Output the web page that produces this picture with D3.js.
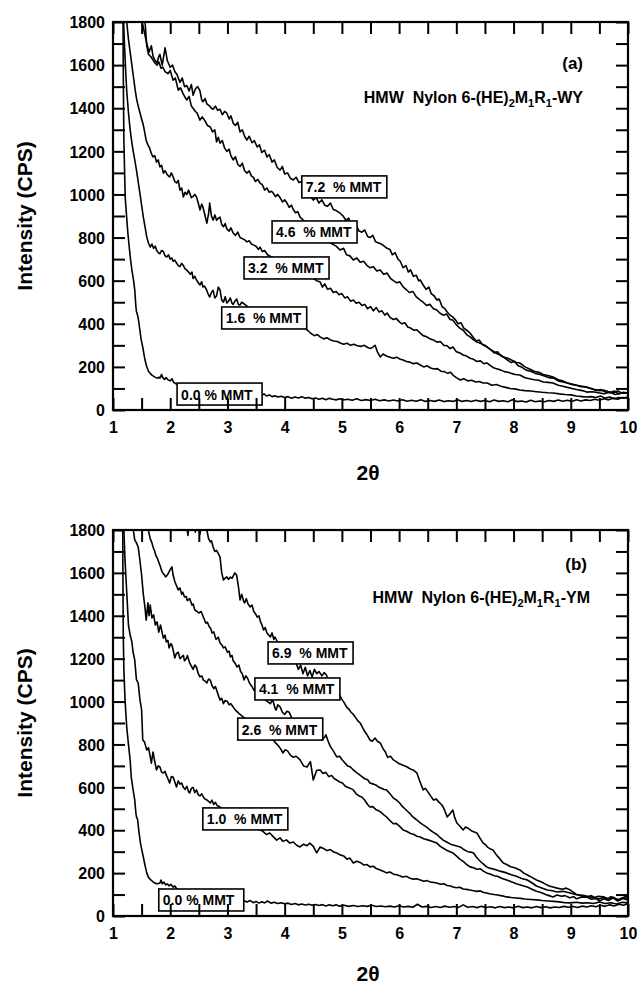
<!DOCTYPE html>
<html>
<head>
<meta charset="utf-8">
<script src="https://cdn.jsdelivr.net/npm/d3@7/dist/d3.min.js"></script>
<style>
  body { margin: 0; background: #fff; }
  svg text { font-family: "Liberation Sans", Arial, Helvetica, sans-serif; font-weight: bold; fill: #000; }
</style>
</head>
<body>
<svg id="chart" width="637" height="988"></svg>
<script>
// ---------- axis definitions ----------
const xTickValues = [1, 1.5, 2, 2.5, 3, 3.5, 4, 4.5, 5, 5.5, 6, 6.5, 7, 7.5, 8, 8.5, 9, 9.5, 10];
const xTickLabels = ["1", "2", "3", "4", "5", "6", "7", "8", "9", "10"];
const yTickValues = [0, 100, 200, 300, 400, 500, 600, 700, 800, 900, 1000, 1100, 1200, 1300, 1400, 1500, 1600, 1700, 1800];
const yTickLabels = ["0", "200", "400", "600", "800", "1000", "1200", "1400", "1600", "1800"];
const xDomain = [1, 10];
const yDomain = [0, 1800];

// ---------- panel (a): HMW Nylon 6-(HE)2M1R1-WY, [2θ, intensity CPS] ----------
const wy72 = [[1.48,1950],[1.51,1800],[1.55,1750],[1.59,1700],[1.63,1660],[1.67,1690],[1.70,1640],[1.74,1620],[1.77,1610],[1.80,1640],[1.82,1650],[1.86,1600],[1.91,1680],[1.95,1620],[2.0,1590],[2.04,1600],[2.08,1570],[2.12,1555],[2.17,1520],[2.21,1540],[2.25,1500],[2.29,1505],[2.33,1480],[2.37,1510],[2.40,1460],[2.44,1490],[2.48,1500],[2.52,1480],[2.55,1440],[2.57,1430],[2.61,1445],[2.64,1420],[2.69,1410],[2.72,1400],[2.75,1395],[2.79,1410],[2.83,1390],[2.87,1395],[2.91,1370],[2.95,1385],[2.99,1377],[3.03,1350],[3.06,1365],[3.10,1331],[3.14,1320],[3.18,1335],[3.22,1290],[3.26,1300],[3.30,1270],[3.34,1252],[3.38,1270],[3.43,1240],[3.47,1250],[3.52,1220],[3.56,1230],[3.60,1195],[3.65,1205],[3.69,1174],[3.73,1185],[3.78,1150],[3.82,1160],[3.87,1125],[3.92,1113],[3.96,1130],[4.0,1095],[4.05,1100],[4.1,1075],[4.15,1067],[4.2,1080],[4.25,1055],[4.3,1060],[4.35,1030],[4.4,1010],[4.45,990],[4.5,974],[4.55,985],[4.6,960],[4.65,975],[4.7,950],[4.75,945],[4.8,960],[4.85,930],[4.9,925],[4.97,913],[5.02,900],[5.07,880],[5.12,890],[5.16,860],[5.2,849],[5.25,855],[5.3,830],[5.35,825],[5.4,835],[5.45,805],[5.49,800],[5.54,810],[5.59,780],[5.64,775],[5.69,770],[5.74,760],[5.79,750],[5.84,745],[5.88,720],[5.93,730],[5.98,700],[6.02,690],[6.07,660],[6.12,670],[6.16,640],[6.2,650],[6.25,620],[6.3,625],[6.34,600],[6.37,603],[6.42,580],[6.47,560],[6.52,570],[6.56,540],[6.61,530],[6.66,510],[6.7,515],[6.75,480],[6.8,470],[6.84,455],[6.89,440],[6.94,431],[6.98,420],[7.03,400],[7.08,405],[7.13,380],[7.18,370],[7.24,357],[7.3,335],[7.35,320],[7.4,325],[7.45,305],[7.5,300],[7.54,292],[7.6,280],[7.66,265],[7.72,270],[7.78,250],[7.82,246],[7.9,230],[7.96,220],[8.02,225],[8.08,205],[8.14,199],[8.22,185],[8.3,180],[8.38,170],[8.46,165],[8.54,158],[8.62,150],[8.7,148],[8.78,135],[8.86,130],[8.94,125],[9.02,118],[9.1,115],[9.18,108],[9.26,107],[9.34,100],[9.42,95],[9.5,90],[9.58,92],[9.66,85],[9.74,80],[9.82,88],[9.9,78],[10.0,79]];

const wy46 = [[1.54,1950],[1.56,1800],[1.59,1690],[1.62,1650],[1.66,1640],[1.70,1623],[1.73,1610],[1.77,1600],[1.80,1615],[1.84,1585],[1.87,1591],[1.91,1570],[1.96,1560],[2.0,1575],[2.05,1530],[2.09,1540],[2.14,1484],[2.18,1495],[2.22,1470],[2.26,1450],[2.29,1438],[2.33,1455],[2.37,1410],[2.40,1400],[2.44,1385],[2.47,1377],[2.52,1345],[2.56,1360],[2.61,1340],[2.65,1320],[2.70,1313],[2.74,1290],[2.78,1300],[2.81,1243],[2.84,1265],[2.87,1238],[2.91,1250],[2.95,1215],[2.99,1200],[3.03,1210],[3.06,1180],[3.10,1160],[3.14,1175],[3.18,1140],[3.22,1130],[3.26,1145],[3.30,1110],[3.34,1099],[3.38,1110],[3.42,1085],[3.45,1080],[3.49,1060],[3.53,1070],[3.57,1053],[3.61,1045],[3.65,1020],[3.69,1030],[3.73,1010],[3.77,1015],[3.80,1006],[3.84,990],[3.88,1000],[3.92,985],[3.96,965],[4.0,975],[4.04,960],[4.08,940],[4.12,950],[4.15,930],[4.19,915],[4.23,920],[4.27,895],[4.32,882],[4.4,860],[4.5,840],[4.6,810],[4.7,790],[4.8,775],[4.9,760],[4.97,742],[5.03,750],[5.08,720],[5.14,715],[5.2,696],[5.26,705],[5.32,685],[5.38,690],[5.44,670],[5.49,660],[5.55,665],[5.61,645],[5.67,650],[5.73,630],[5.79,635],[5.85,610],[5.9,600],[5.96,590],[6.01,595],[6.07,571],[6.12,560],[6.18,545],[6.24,550],[6.3,525],[6.37,510],[6.42,500],[6.48,485],[6.54,490],[6.6,470],[6.66,464],[6.71,450],[6.77,440],[6.83,445],[6.89,420],[6.94,417],[7.0,395],[7.06,380],[7.12,370],[7.18,350],[7.24,339],[7.3,325],[7.36,315],[7.42,310],[7.48,300],[7.54,292],[7.6,280],[7.66,270],[7.72,260],[7.78,255],[7.82,246],[7.9,240],[7.98,230],[8.05,220],[8.11,218],[8.2,200],[8.28,190],[8.36,180],[8.44,175],[8.52,165],[8.6,160],[8.69,153],[8.78,140],[8.86,135],[8.94,125],[9.02,120],[9.1,115],[9.2,110],[9.28,107],[9.36,100],[9.44,90],[9.52,95],[9.6,85],[9.68,80],[9.76,88],[9.84,75],[9.92,82],[10,79]];

const wy32 = [[1.21,1950],[1.24,1800],[1.27,1720],[1.30,1660],[1.33,1600],[1.36,1540],[1.39,1480],[1.41,1447],[1.44,1410],[1.47,1380],[1.50,1350],[1.53,1322],[1.56,1280],[1.58,1250],[1.61,1230],[1.64,1215],[1.67,1190],[1.70,1174],[1.73,1180],[1.76,1150],[1.79,1160],[1.82,1128],[1.85,1135],[1.88,1099],[1.91,1110],[1.94,1095],[1.97,1085],[1.99,1081],[2.02,1100],[2.05,1082],[2.08,1060],[2.11,1053],[2.14,1065],[2.17,1020],[2.20,1030],[2.23,988],[2.26,1010],[2.29,1000],[2.32,1020],[2.34,1006],[2.37,985],[2.40,990],[2.43,1000],[2.46,988],[2.49,960],[2.52,928],[2.55,955],[2.57,943],[2.61,900],[2.64,867],[2.67,910],[2.69,960],[2.72,900],[2.75,881],[2.78,905],[2.81,880],[2.84,890],[2.87,895],[2.90,860],[2.93,850],[2.96,865],[2.99,840],[3.03,830],[3.06,845],[3.10,821],[3.14,810],[3.18,825],[3.22,800],[3.26,795],[3.30,790],[3.34,780],[3.38,785],[3.42,770],[3.46,765],[3.50,760],[3.54,745],[3.57,756],[3.61,735],[3.65,740],[3.7,720],[3.8,705],[3.9,695],[4.0,680],[4.1,665],[4.2,655],[4.3,640],[4.4,620],[4.5,610],[4.56,600],[4.62,594],[4.66,570],[4.7,585],[4.75,560],[4.8,565],[4.85,545],[4.9,550],[4.95,535],[5.0,540],[5.05,520],[5.1,525],[5.15,505],[5.2,510],[5.25,495],[5.3,500],[5.35,485],[5.4,490],[5.45,470],[5.5,480],[5.55,460],[5.6,475],[5.65,455],[5.7,460],[5.75,440],[5.79,450],[5.84,430],[5.9,420],[5.95,425],[6.0,410],[6.05,400],[6.1,405],[6.15,385],[6.2,380],[6.26,370],[6.31,372],[6.37,357],[6.42,345],[6.48,340],[6.54,330],[6.6,325],[6.66,315],[6.72,318],[6.78,300],[6.84,298],[6.89,285],[6.94,292],[7.0,270],[7.06,265],[7.12,255],[7.18,250],[7.24,240],[7.3,235],[7.36,225],[7.42,228],[7.48,215],[7.54,218],[7.6,205],[7.66,195],[7.72,190],[7.78,185],[7.84,178],[7.9,175],[7.96,170],[8.03,165],[8.11,162],[8.2,150],[8.28,145],[8.36,140],[8.44,138],[8.52,130],[8.6,128],[8.69,125],[8.78,115],[8.86,110],[8.94,105],[9.02,100],[9.1,95],[9.2,90],[9.28,83],[9.38,85],[9.48,80],[9.58,75],[9.68,82],[9.78,72],[9.88,78],[10,79]];

const wy16 = [[1.17,1950],[1.185,1800],[1.20,1700],[1.22,1580],[1.24,1480],[1.27,1380],[1.30,1300],[1.33,1240],[1.35,1206],[1.38,1160],[1.41,1113],[1.44,1060],[1.47,1006],[1.50,950],[1.53,895],[1.56,850],[1.59,802],[1.62,775],[1.65,756],[1.68,770],[1.71,750],[1.74,760],[1.76,742],[1.79,730],[1.82,725],[1.85,740],[1.88,735],[1.91,715],[1.94,710],[1.97,720],[2.0,700],[2.03,705],[2.05,690],[2.08,695],[2.11,682],[2.14,670],[2.17,665],[2.20,680],[2.23,670],[2.26,655],[2.29,649],[2.32,640],[2.35,630],[2.38,640],[2.40,610],[2.43,620],[2.46,603],[2.49,590],[2.52,580],[2.55,595],[2.57,571],[2.60,575],[2.63,560],[2.66,540],[2.69,524],[2.72,545],[2.75,555],[2.78,520],[2.81,530],[2.84,570],[2.87,557],[2.90,510],[2.93,500],[2.96,525],[2.99,496],[3.02,505],[3.05,520],[3.08,495],[3.10,490],[3.13,505],[3.16,515],[3.19,490],[3.22,487],[3.25,500],[3.28,495],[3.4,470],[3.6,450],[3.8,430],[4.0,400],[4.1,385],[4.17,395],[4.25,380],[4.32,385],[4.4,370],[4.46,355],[4.52,345],[4.57,350],[4.62,339],[4.68,330],[4.74,335],[4.8,325],[4.86,320],[4.92,318],[4.97,311],[5.03,305],[5.09,310],[5.15,300],[5.21,305],[5.27,298],[5.33,295],[5.39,300],[5.45,290],[5.5,285],[5.54,292],[5.58,300],[5.62,270],[5.67,246],[5.72,260],[5.78,250],[5.84,245],[5.9,240],[5.96,245],[6.02,235],[6.07,232],[6.13,225],[6.19,222],[6.25,215],[6.31,218],[6.37,209],[6.43,200],[6.49,205],[6.55,195],[6.61,190],[6.67,192],[6.73,180],[6.79,178],[6.85,170],[6.9,175],[6.94,162],[7.0,150],[7.07,139],[7.13,145],[7.2,135],[7.27,138],[7.34,130],[7.4,132],[7.47,125],[7.54,125],[7.62,115],[7.7,118],[7.78,110],[7.86,105],[7.94,100],[8.02,98],[8.11,93],[8.2,90],[8.3,88],[8.4,85],[8.5,82],[8.6,80],[8.69,79],[8.8,75],[8.9,72],[9.0,70],[9.1,65],[9.2,62],[9.27,60],[9.36,62],[9.44,58],[9.52,65],[9.6,55],[9.68,60],[9.76,52],[9.84,58],[9.92,55],[10,60]];

const wy00 = [[1.165,2000],[1.175,1800],[1.18,1550],[1.19,1250],[1.205,1080],[1.215,980],[1.24,890],[1.26,820],[1.29,740],[1.31,690],[1.33,650],[1.36,600],[1.38,557],[1.40,480],[1.41,456],[1.43,440],[1.45,410],[1.47,370],[1.49,330],[1.52,292],[1.55,245],[1.57,220],[1.59,201],[1.62,180],[1.65,170],[1.68,162],[1.72,155],[1.75,150],[1.78,148],[1.80,152],[1.82,148],[1.85,165],[1.87,150],[1.9,142],[1.93,150],[1.96,140],[2.0,135],[2.03,145],[2.06,128],[2.1,122],[2.2,110],[2.4,95],[2.6,88],[2.8,80],[3.0,75],[3.3,72],[3.6,68],[3.64,75],[3.68,65],[3.73,70],[3.78,62],[3.83,66],[3.88,60],[3.94,64],[4.0,58],[4.06,62],[4.12,55],[4.18,60],[4.24,56],[4.3,62],[4.36,55],[4.42,58],[4.48,52],[4.54,56],[4.6,50],[4.66,55],[4.72,48],[4.78,54],[4.84,50],[4.9,47],[4.96,52],[5.02,46],[5.1,50],[5.18,45],[5.26,52],[5.34,44],[5.42,48],[5.5,44],[5.58,50],[5.66,43],[5.74,47],[5.82,42],[5.9,46],[5.98,42],[6.06,48],[6.14,41],[6.22,45],[6.3,41],[6.38,48],[6.46,40],[6.54,44],[6.62,40],[6.7,46],[6.78,39],[6.86,43],[6.94,40],[7.02,48],[7.1,40],[7.18,44],[7.26,39],[7.34,45],[7.42,40],[7.5,44],[7.58,38],[7.66,46],[7.74,40],[7.82,43],[7.9,38],[7.98,48],[8.06,39],[8.14,42],[8.22,37],[8.3,45],[8.38,38],[8.46,42],[8.54,38],[8.62,44],[8.7,40],[8.78,46],[8.86,41],[8.94,45],[9.02,40],[9.1,48],[9.18,42],[9.26,47],[9.34,44],[9.42,50],[9.5,45],[9.58,52],[9.66,47],[9.74,55],[9.82,50],[9.9,58],[10,55]];

const wyLabels = ["7.2  % MMT", "4.6  % MMT", "3.2  % MMT", "1.6  % MMT", "0.0 % MMT"];
const wyLabelX = [4.30, 3.78, 3.29, 2.90, 2.12];
const wyLabelY = [1086, 877, 710, 478, 125];

// ---------- panel (b): HMW Nylon 6-(HE)2M1R1-YM, [2θ, intensity CPS] ----------
const ym69 = [[2.18,1950],[2.25,1880],[2.29,1810],[2.31,1775],[2.33,1840],[2.40,1860],[2.44,1790],[2.46,1820],[2.50,1805],[2.52,1780],[2.54,1830],[2.60,1840],[2.64,1800],[2.67,1760],[2.70,1745],[2.72,1750],[2.75,1721],[2.78,1700],[2.81,1705],[2.84,1690],[2.87,1675],[2.9,1600],[2.93,1567],[2.96,1575],[2.99,1581],[3.02,1570],[3.05,1580],[3.08,1575],[3.1,1585],[3.13,1600],[3.16,1590],[3.19,1540],[3.22,1474],[3.25,1500],[3.28,1470],[3.3,1460],[3.33,1480],[3.36,1455],[3.4,1441],[3.43,1450],[3.46,1420],[3.49,1410],[3.52,1394],[3.55,1400],[3.58,1370],[3.6,1360],[3.63,1334],[3.66,1345],[3.69,1320],[3.72,1310],[3.75,1301],[3.78,1320],[3.81,1290],[3.83,1301],[3.87,1280],[3.95,1255],[4.05,1230],[4.15,1190],[4.2,1180],[4.24,1150],[4.28,1170],[4.32,1130],[4.36,1160],[4.4,1120],[4.44,1145],[4.48,1115],[4.52,1150],[4.56,1130],[4.6,1140],[4.65,1120],[4.69,1135],[4.73,1124],[4.77,1095],[4.81,1085],[4.85,1070],[4.88,1060],[4.91,1040],[4.95,1035],[5.0,1010],[5.04,995],[5.08,975],[5.12,965],[5.16,950],[5.2,940],[5.24,925],[5.28,910],[5.32,900],[5.36,880],[5.4,860],[5.44,845],[5.49,821],[5.53,815],[5.58,830],[5.62,815],[5.67,807],[5.72,780],[5.76,765],[5.8,740],[5.85,745],[5.9,728],[5.95,720],[6.0,710],[6.05,705],[6.1,700],[6.14,695],[6.2,685],[6.25,680],[6.31,667],[6.36,630],[6.42,588],[6.46,595],[6.5,580],[6.55,560],[6.6,541],[6.65,545],[6.7,530],[6.74,520],[6.77,508],[6.8,490],[6.84,462],[6.9,480],[6.94,494],[6.97,460],[7.01,434],[7.06,420],[7.12,401],[7.16,415],[7.2,410],[7.28,395],[7.36,387],[7.42,360],[7.47,340],[7.52,330],[7.55,320],[7.6,312],[7.64,308],[7.7,285],[7.75,270],[7.78,260],[7.82,247],[7.88,240],[7.95,230],[8.02,225],[8.11,215],[8.18,200],[8.25,190],[8.32,180],[8.4,168],[8.48,160],[8.55,150],[8.62,140],[8.69,135],[8.76,130],[8.85,125],[8.92,130],[8.99,121],[9.05,110],[9.1,100],[9.18,95],[9.28,89],[9.36,95],[9.44,82],[9.5,80],[9.58,88],[9.64,78],[9.7,90],[9.78,80],[9.86,75],[9.93,88],[10,95]];

const ym41 = [[1.6,1900],[1.617,1800],[1.65,1760],[1.68,1740],[1.70,1721],[1.73,1700],[1.75,1680],[1.78,1665],[1.80,1650],[1.83,1628],[1.85,1610],[1.87,1600],[1.90,1590],[1.92,1581],[1.95,1590],[1.97,1600],[2.0,1615],[2.03,1628],[2.05,1590],[2.08,1560],[2.11,1540],[2.14,1520],[2.17,1530],[2.2,1500],[2.22,1510],[2.25,1488],[2.28,1490],[2.3,1470],[2.34,1480],[2.38,1450],[2.4,1455],[2.43,1427],[2.47,1420],[2.5,1413],[2.54,1420],[2.57,1400],[2.6,1380],[2.62,1366],[2.65,1370],[2.68,1350],[2.71,1340],[2.73,1320],[2.76,1325],[2.8,1290],[2.84,1300],[2.87,1273],[2.9,1265],[2.93,1250],[2.96,1255],[3.0,1230],[3.03,1235],[3.05,1208],[3.08,1215],[3.1,1190],[3.13,1180],[3.17,1161],[3.2,1170],[3.23,1140],[3.26,1130],[3.29,1101],[3.32,1120],[3.35,1110],[3.38,1090],[3.40,1080],[3.43,1070],[3.46,1054],[3.55,1040],[3.65,1010],[3.7,1000],[3.75,990],[3.78,1005],[3.8,1000],[3.83,970],[3.85,960],[3.88,985],[3.92,975],[3.96,950],[4.0,940],[4.04,955],[4.08,950],[4.12,925],[4.15,910],[4.2,918],[4.25,900],[4.4,870],[4.55,840],[4.65,820],[4.7,835],[4.72,845],[4.76,815],[4.8,790],[4.85,770],[4.91,742],[4.96,745],[5.0,730],[5.05,715],[5.1,700],[5.15,695],[5.2,681],[5.25,670],[5.3,660],[5.35,650],[5.4,640],[5.45,635],[5.49,620],[5.55,615],[5.6,610],[5.65,600],[5.7,595],[5.74,590],[5.78,588],[5.84,570],[5.9,550],[5.96,540],[6.01,527],[6.06,510],[6.1,500],[6.16,485],[6.2,475],[6.24,462],[6.3,450],[6.37,434],[6.42,425],[6.45,420],[6.5,410],[6.54,401],[6.6,390],[6.66,380],[6.72,365],[6.77,354],[6.83,345],[6.9,335],[6.96,330],[7.02,325],[7.07,322],[7.13,310],[7.2,300],[7.25,298],[7.3,294],[7.35,275],[7.4,260],[7.46,245],[7.53,229],[7.6,222],[7.66,218],[7.7,215],[7.78,208],[7.88,201],[7.96,192],[8.05,185],[8.14,175],[8.24,168],[8.32,155],[8.4,140],[8.48,132],[8.59,121],[8.68,118],[8.76,112],[8.86,115],[8.99,107],[9.08,100],[9.16,98],[9.24,95],[9.32,90],[9.4,85],[9.48,92],[9.57,89],[9.66,80],[9.74,88],[9.82,75],[9.9,85],[10,84]];

const ym26 = [[1.34,1900],[1.355,1800],[1.38,1754],[1.41,1740],[1.44,1721],[1.47,1660],[1.50,1590],[1.53,1500],[1.56,1436],[1.58,1380],[1.61,1460],[1.63,1400],[1.65,1450],[1.68,1390],[1.71,1404],[1.74,1357],[1.77,1371],[1.80,1324],[1.83,1357],[1.86,1320],[1.88,1296],[1.91,1310],[1.93,1278],[1.96,1285],[1.98,1250],[2.01,1270],[2.03,1264],[2.06,1230],[2.08,1203],[2.11,1225],[2.14,1230],[2.17,1200],[2.20,1208],[2.23,1215],[2.25,1190],[2.28,1200],[2.30,1215],[2.34,1180],[2.37,1165],[2.40,1150],[2.43,1170],[2.46,1160],[2.49,1130],[2.52,1115],[2.55,1120],[2.58,1100],[2.61,1095],[2.64,1087],[2.67,1105],[2.70,1100],[2.73,1075],[2.76,1060],[2.79,1070],[2.81,1054],[2.84,1030],[2.87,1007],[2.90,1015],[2.93,990],[2.96,1005],[3.0,1000],[3.03,985],[3.06,990],[3.1,975],[3.14,960],[3.2,945],[3.4,900],[3.6,855],[3.7,840],[3.75,830],[3.8,821],[3.85,805],[3.9,790],[3.94,775],[3.97,760],[4.01,775],[4.05,770],[4.1,750],[4.15,740],[4.2,745],[4.27,728],[4.33,700],[4.39,695],[4.45,720],[4.5,634],[4.56,680],[4.62,681],[4.67,665],[4.72,670],[4.77,650],[4.82,655],[4.87,640],[4.91,634],[4.96,625],[5.01,620],[5.06,605],[5.1,600],[5.15,595],[5.2,588],[5.25,570],[5.3,560],[5.35,555],[5.4,540],[5.45,520],[5.49,508],[5.54,510],[5.6,495],[5.65,490],[5.7,480],[5.74,470],[5.78,462],[5.84,445],[5.9,430],[5.95,432],[6.0,420],[6.04,410],[6.07,401],[6.13,395],[6.2,385],[6.26,380],[6.31,372],[6.37,368],[6.43,360],[6.5,355],[6.56,350],[6.61,345],[6.66,340],[6.72,325],[6.78,315],[6.84,305],[6.89,300],[6.94,294],[7.0,280],[7.06,265],[7.12,255],[7.18,240],[7.24,229],[7.3,225],[7.36,218],[7.42,220],[7.48,208],[7.53,201],[7.6,195],[7.66,188],[7.72,185],[7.8,175],[7.88,168],[7.96,160],[8.05,150],[8.12,145],[8.18,140],[8.24,135],[8.32,125],[8.4,115],[8.48,110],[8.56,100],[8.62,95],[8.69,89],[8.76,98],[8.84,92],[8.9,95],[8.98,85],[9.05,90],[9.1,80],[9.18,88],[9.28,89],[9.36,78],[9.44,82],[9.5,70],[9.58,80],[9.66,72],[9.74,85],[9.82,70],[9.9,82],[10,75]];

const ym10 = [[1.18,2000],[1.19,1800],[1.21,1660],[1.24,1511],[1.27,1357],[1.30,1310],[1.33,1278],[1.35,1231],[1.38,1194],[1.41,1101],[1.44,1087],[1.47,1010],[1.50,961],[1.52,821],[1.55,812],[1.59,774],[1.62,785],[1.65,745],[1.67,713],[1.70,765],[1.73,720],[1.76,681],[1.79,700],[1.82,695],[1.85,670],[1.88,667],[1.91,675],[1.93,658],[1.96,640],[1.99,620],[2.02,650],[2.05,648],[2.08,625],[2.11,602],[2.14,630],[2.17,615],[2.20,620],[2.23,600],[2.26,590],[2.29,605],[2.32,580],[2.34,574],[2.37,595],[2.40,600],[2.43,575],[2.46,588],[2.49,565],[2.52,560],[2.55,570],[2.58,555],[2.61,545],[2.64,541],[2.67,535],[2.70,527],[2.73,540],[2.76,520],[2.79,530],[2.82,515],[2.87,508],[2.95,495],[3.1,470],[3.3,440],[3.5,410],[3.62,395],[3.68,380],[3.74,387],[3.80,370],[3.86,354],[3.92,364],[3.97,348],[4.03,355],[4.09,340],[4.15,345],[4.21,330],[4.27,322],[4.33,335],[4.39,328],[4.44,340],[4.5,325],[4.56,294],[4.62,322],[4.68,315],[4.74,305],[4.8,310],[4.86,298],[4.91,294],[4.97,285],[5.03,280],[5.09,265],[5.14,270],[5.2,247],[5.26,255],[5.32,250],[5.38,238],[5.44,240],[5.49,229],[5.55,232],[5.61,220],[5.67,215],[5.73,208],[5.78,201],[5.84,205],[5.9,195],[5.96,192],[6.02,186],[6.07,182],[6.13,185],[6.19,176],[6.25,172],[6.31,174],[6.37,168],[6.43,162],[6.49,165],[6.55,158],[6.61,156],[6.66,154],[6.72,148],[6.78,150],[6.84,142],[6.9,140],[6.94,135],[7.0,132],[7.06,134],[7.12,126],[7.18,124],[7.24,121],[7.3,118],[7.36,115],[7.42,117],[7.48,110],[7.53,107],[7.6,103],[7.66,100],[7.72,98],[7.8,94],[7.88,89],[7.96,86],[8.04,84],[8.12,82],[8.2,79],[8.3,77],[8.4,75],[8.5,72],[8.6,70],[8.7,68],[8.8,66],[8.9,62],[8.99,61],[9.1,64],[9.2,60],[9.3,62],[9.4,58],[9.5,65],[9.6,58],[9.7,62],[9.8,56],[9.9,64],[10,61]];

const ym00 = [[1.16,2000],[1.17,1800],[1.175,1500],[1.18,1300],[1.19,1150],[1.21,1010],[1.24,880],[1.27,800],[1.30,725],[1.32,645],[1.35,590],[1.38,541],[1.40,480],[1.41,462],[1.43,450],[1.45,400],[1.48,340],[1.51,300],[1.53,275],[1.56,235],[1.59,201],[1.62,180],[1.66,168],[1.70,159],[1.74,152],[1.78,150],[1.82,154],[1.84,168],[1.86,150],[1.89,158],[1.92,145],[1.95,150],[1.98,140],[2.01,148],[2.05,135],[2.08,140],[2.12,125],[2.3,110],[2.6,95],[3.0,80],[3.3,70],[3.34,65],[3.4,72],[3.45,62],[3.5,68],[3.55,60],[3.6,66],[3.65,61],[3.7,70],[3.76,60],[3.82,64],[3.88,58],[3.94,62],[4.0,57],[4.06,60],[4.12,54],[4.18,58],[4.24,52],[4.3,56],[4.36,51],[4.42,55],[4.48,50],[4.54,54],[4.6,49],[4.66,53],[4.72,47],[4.78,52],[4.84,48],[4.9,52],[4.96,46],[5.04,50],[5.12,45],[5.2,49],[5.28,44],[5.36,48],[5.44,45],[5.52,50],[5.6,44],[5.68,47],[5.76,43],[5.84,46],[5.92,42],[6.0,48],[6.08,42],[6.16,45],[6.24,41],[6.32,55],[6.4,42],[6.48,45],[6.56,40],[6.64,44],[6.72,40],[6.8,46],[6.88,41],[6.96,44],[7.04,40],[7.12,52],[7.2,41],[7.28,44],[7.36,39],[7.44,45],[7.52,40],[7.6,43],[7.68,38],[7.76,44],[7.84,39],[7.92,42],[8.0,38],[8.08,45],[8.16,39],[8.24,42],[8.32,38],[8.4,44],[8.48,39],[8.56,43],[8.64,38],[8.72,42],[8.8,40],[8.88,45],[8.96,41],[9.04,44],[9.12,40],[9.2,46],[9.28,42],[9.36,48],[9.44,43],[9.52,50],[9.6,45],[9.68,52],[9.76,47],[9.84,55],[9.92,50],[10,58]];

const ymLabels = ["6.9  % MMT", "4.1  % MMT", "2.6  % MMT", "1.0  % MMT", "0.0 % MMT"];
const ymLabelX = [3.71, 3.48, 3.18, 2.57, 1.80];
const ymLabelY = [1278, 1110, 923, 504, 126];

// ---------- drawing ----------
const svg = d3.select("#chart");
svg.append("rect").attr("width", 637).attr("height", 988).attr("fill", "#fff");

const panels = [
  {
    id: "a", top: 22, bottom: 410,
    series: [wy00, wy16, wy32, wy46, wy72],
    labels: wyLabels, labelX: wyLabelX, labelY: wyLabelY,
    letter: "(a)", letterPos: [583, 69],
    title: ["HMW  Nylon 6-(HE)", "2", "M", "1", "R", "1", "-WY"], titlePos: [583, 103],
    xTitleY: 480
  },
  {
    id: "b", top: 530, bottom: 916,
    series: [ym00, ym10, ym26, ym41, ym69],
    labels: ymLabels, labelX: ymLabelX, labelY: ymLabelY,
    letter: "(b)", letterPos: [587, 570],
    title: ["HMW  Nylon 6-(HE)", "2", "M", "1", "R", "1", "-YM"], titlePos: [590, 603],
    xTitleY: 981
  }
];

const left = 113, right = 628;

panels.forEach(p => {
  const x = d3.scaleLinear().domain(xDomain).range([left, right]);
  const y = d3.scaleLinear().domain(yDomain).range([p.bottom, p.top]);
  const g = svg.append("g");

  g.append("clipPath").attr("id", "clip-" + p.id)
    .append("rect").attr("x", left).attr("y", p.top)
    .attr("width", right - left).attr("height", p.bottom - p.top);

  // intensity traces
  const line = d3.line().x(d => x(d[0])).y(d => y(d[1]));
  g.append("g").attr("clip-path", `url(#clip-${p.id})`)
    .selectAll("path").data(p.series).join("path")
    .attr("d", line)
    .attr("fill", "none").attr("stroke", "#000")
    .attr("stroke-width", 1.6).attr("stroke-linejoin", "round");

  // boxed concentration labels
  const lab = g.append("g").selectAll("g").data(p.labels).join("g")
    .attr("transform", (d, i) => `translate(${x(p.labelX[i])},${y(p.labelY[i])})`);
  lab.append("rect").attr("width", 85).attr("height", 22)
    .attr("fill", "#fff").attr("stroke", "#000").attr("stroke-width", 1.6);
  lab.append("text").attr("x", 4).attr("y", 16.5)
    .attr("xml:space", "preserve").style("white-space", "pre")
    .attr("font-size", 14).text(d => d);

  // axes with inward ticks
  const isInt = v => Number.isInteger(v);
  const yFmt = v => (v % 200 === 0) ? yTickLabels[v / 200] : "";
  const axB = g.append("g").attr("transform", `translate(0,${p.bottom})`)
    .call(d3.axisBottom(x).tickValues(xTickValues).tickSize(-12).tickPadding(8)
      .tickFormat(v => isInt(v) ? xTickLabels[v - 1] : ""));
  const axT = g.append("g").attr("transform", `translate(0,${p.top})`)
    .call(d3.axisTop(x).tickValues(xTickValues).tickSize(-12).tickFormat(""));
  const axL = g.append("g").attr("transform", `translate(${left},0)`)
    .call(d3.axisLeft(y).tickValues(yTickValues).tickSize(-12).tickPadding(8).tickFormat(yFmt));
  const axR = g.append("g").attr("transform", `translate(${right},0)`)
    .call(d3.axisRight(y).tickValues(yTickValues).tickSize(-12).tickFormat(""));
  [axB, axT, axL, axR].forEach(a => {
    a.select(".domain").remove();
    a.selectAll(".tick line").attr("stroke", "#000").attr("stroke-width", 2);
    a.selectAll("text").attr("font-size", 16).attr("font-family", null);
  });
  axB.selectAll("text").attr("dy", "0.95em");
  axL.selectAll("text").attr("dy", "0.36em");

  // plot frame
  g.append("rect").attr("x", left).attr("y", p.top)
    .attr("width", right - left).attr("height", p.bottom - p.top)
    .attr("fill", "none").attr("stroke", "#000").attr("stroke-width", 2.2);

  // panel letter and sample name
  g.append("text").attr("x", p.letterPos[0]).attr("y", p.letterPos[1])
    .attr("text-anchor", "end").attr("font-size", 17).text(p.letter);
  const t = g.append("text").attr("x", p.titlePos[0]).attr("y", p.titlePos[1])
    .attr("text-anchor", "end").attr("font-size", 16)
    .attr("xml:space", "preserve").style("white-space", "pre");
  p.title.forEach((s, i) => {
    const sub = i % 2 === 1;
    t.append("tspan").text(s)
      .attr("font-size", sub ? 11 : 16)
      .attr("dy", sub ? 4 : (i === 0 ? 0 : -4));
  });

  // axis titles
  g.append("text").attr("transform", `translate(32,${(p.top + p.bottom) / 2}) rotate(-90)`)
    .attr("text-anchor", "middle").attr("font-size", 21).text("Intensity (CPS)");
  g.append("text").attr("x", 368).attr("y", p.xTitleY)
    .attr("text-anchor", "middle").attr("font-size", 21).text("2θ");
});
</script>
</body>
</html>
